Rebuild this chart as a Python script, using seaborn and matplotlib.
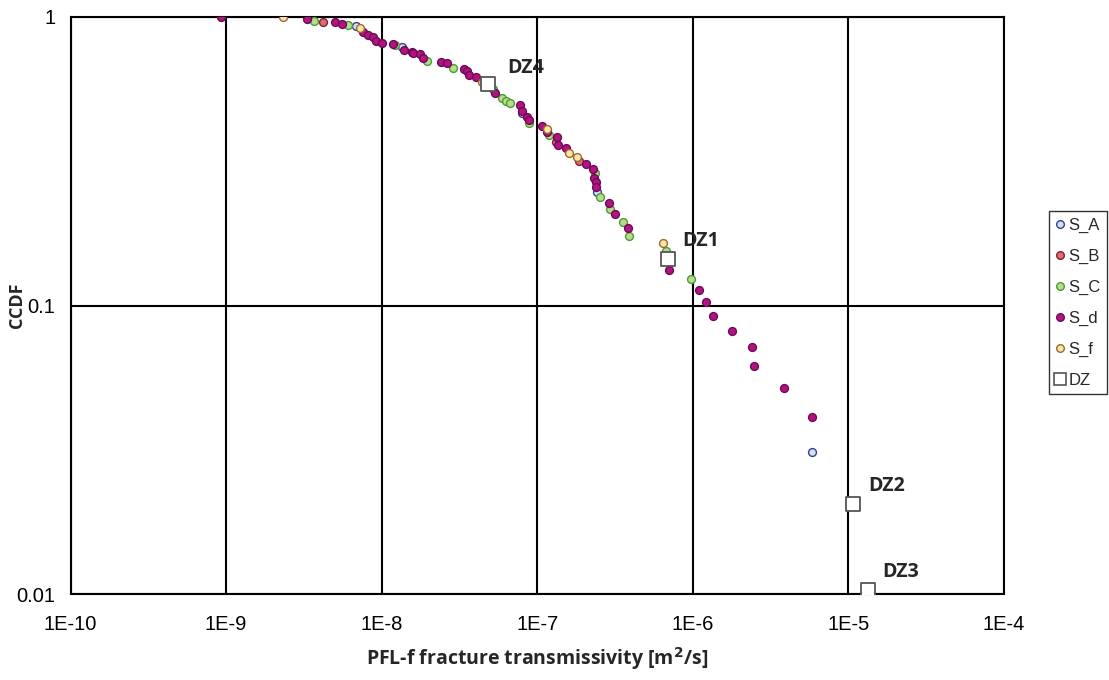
import numpy as np
import pandas as pd
import matplotlib
matplotlib.use("Agg")
import matplotlib.pyplot as plt
import seaborn as sns
from matplotlib.lines import Line2D

# ---- data (transmissivity [m2/s], CCDF) ----
sA_x = [6.84e-9, 1.35e-8, 7.94e-8, 2.41e-7, 5.82e-6]
sA_y = [0.931, 0.789, 0.464, 0.247, 0.0311]

sB_x = [4.20e-9, 1.32e-7, 1.86e-7]
sB_y = [0.958, 0.370, 0.318]

sC_x = [3.69e-9, 6.07e-9, 1.22e-8, 1.95e-8, 2.86e-8, 5.19e-8, 5.90e-8, 6.29e-8,
        6.68e-8, 8.85e-8, 1.19e-7, 2.35e-7, 2.53e-7, 2.94e-7, 3.57e-7, 3.90e-7,
        6.71e-7, 9.72e-7]
sC_y = [0.971, 0.938, 0.800, 0.704, 0.664, 0.563, 0.525, 0.513,
        0.502, 0.428, 0.390, 0.287, 0.238, 0.216, 0.194, 0.1746,
        0.155, 0.124]

sd_x = [9.27e-10, 3.30e-9, 4.99e-9, 5.58e-9, 7.62e-9, 8.20e-9, 8.83e-9, 9.18e-9,
        1.00e-8, 1.19e-8, 1.39e-8, 1.56e-8, 1.60e-8, 1.76e-8, 1.85e-8, 2.39e-8,
        2.62e-8, 3.38e-8, 3.52e-8, 3.62e-8, 4.04e-8, 5.35e-8, 7.74e-8, 7.94e-8,
        8.55e-8, 8.89e-8, 1.08e-7, 1.15e-7, 1.33e-7, 1.36e-7, 1.53e-7, 2.07e-7,
        2.27e-7, 2.31e-7, 2.37e-7, 2.37e-7, 2.89e-7, 3.14e-7, 3.83e-7, 7.02e-7,
        1.09e-6, 1.21e-6, 1.35e-6, 1.79e-6, 2.39e-6, 2.48e-6, 3.85e-6, 5.82e-6]
sd_y = [1.0, 0.984, 0.961, 0.948, 0.889, 0.868, 0.850, 0.824,
        0.815, 0.806, 0.768, 0.758, 0.748, 0.743, 0.723, 0.700,
        0.691, 0.659, 0.652, 0.629, 0.621, 0.544, 0.496, 0.473,
        0.451, 0.440, 0.420, 0.398, 0.383, 0.360, 0.352, 0.309,
        0.297, 0.277, 0.267, 0.258, 0.227, 0.207, 0.185, 0.133,
        0.113, 0.1026, 0.0922, 0.0817, 0.0718, 0.0616, 0.0516, 0.0411]

sf_x = [2.33e-9, 7.26e-9, 4.40e-8, 1.15e-7, 1.60e-7, 1.81e-7, 6.46e-7]
sf_y = [0.998, 0.916, 0.597, 0.409, 0.339, 0.326, 0.165]

dz_x = [4.80e-8, 6.89e-7, 1.07e-5, 1.33e-5]
dz_y = [0.584, 0.1445, 0.0205, 0.0103]
dz_labels = ["DZ4", "DZ1", "DZ2", "DZ3"]

x_ticks = [1e-10, 1e-9, 1e-8, 1e-7, 1e-6, 1e-5, 1e-4]
x_ticklabels = ["1E-10", "1E-9", "1E-8", "1E-7", "1E-6", "1E-5", "1E-4"]
y_ticks = [0.01, 0.1, 1]
y_ticklabels = ["0.01", "0.1", "1"]

series = [
    ("S_A", sA_x, sA_y, "#cfe3f5", "#3b3d8f"),
    ("S_B", sB_x, sB_y, "#d86f78", "#8a1d2c"),
    ("S_C", sC_x, sC_y, "#b8dc8c", "#4d9a37"),
    ("S_d", sd_x, sd_y, "#b3127f", "#6b0b57"),
    ("S_f", sf_x, sf_y, "#fde5a8", "#9a6b2c"),
]

sns.set_style("white")
plt.rcParams["font.family"] = ["Liberation Sans", "DejaVu Sans"]
BOLD = ["Open Sans", "DejaVu Sans"]

fig = plt.figure(figsize=(11.09, 6.80), dpi=100)
ax = fig.add_axes([70.5 / 1109, 1 - 594 / 680, (1004 - 70.5) / 1109, (594 - 17) / 680])

handles = []
for name, xs, ys, fc, ec in series:
    df = pd.DataFrame({"T": xs, "CCDF": ys})
    sns.scatterplot(data=df, x="T", y="CCDF", ax=ax, color=fc, edgecolor=ec,
                    linewidth=1.0, s=32, marker="o", zorder=3, legend=False)
    handles.append(Line2D([], [], linestyle="none", marker="o", markersize=5.5,
                          markerfacecolor=fc, markeredgecolor=ec,
                          markeredgewidth=1.0, label=name))

dfz = pd.DataFrame({"T": dz_x, "CCDF": dz_y})
sns.scatterplot(data=dfz, x="T", y="CCDF", ax=ax, color="white", edgecolor="#555555",
                linewidth=1.3, s=100, marker="s", zorder=4, legend=False)
handles.append(Line2D([], [], linestyle="none", marker="s", markersize=9,
                      markerfacecolor="white", markeredgecolor="#555555",
                      markeredgewidth=1.2, label="DZ"))

for xv, yv, lab in zip(dz_x, dz_y, dz_labels):
    off = (20, 6) if lab == "DZ4" else (15, 8)
    ax.annotate(lab, (xv, yv), xytext=off, textcoords="offset pixels",
                fontsize=14, fontweight="bold", family=BOLD,
                ha="left", va="bottom", zorder=5)

ax.set_xscale("log")
ax.set_yscale("log")
ax.set_xlim(1e-10, 1e-4)
ax.set_ylim(0.01, 1)
ax.set_xticks(x_ticks)
ax.set_xticklabels(x_ticklabels)
ax.set_yticks(y_ticks)
ax.set_yticklabels(y_ticklabels)
ax.minorticks_off()
ax.tick_params(axis="both", which="major", direction="out", length=6, width=1,
               color="black", labelsize=14.5, labelcolor="black")
ax.tick_params(axis="x", pad=9)
ax.tick_params(axis="y", pad=5)
ax.grid(True, which="major", color="black", linewidth=1.5)
for sp in ax.spines.values():
    sp.set_color("black")
    sp.set_linewidth(1.5)
    sp.set_visible(True)

ax.set_xlabel("PFL-f fracture transmissivity [m$^{\\mathbf{2}}$/s]", fontsize=14,
              fontweight="bold", family=BOLD, labelpad=8)
ax.set_ylabel("CCDF", fontsize=13, fontweight="bold", family=BOLD)
ax.yaxis.set_label_coords((26 - 70.5) / 933.5, 0.5)

leg = fig.legend(handles=handles, loc="upper left",
                 bbox_to_anchor=(1049 / 1109, 1 - 211 / 680),
                 frameon=True, fancybox=False, fontsize=12,
                 handlelength=0.5, handletextpad=0.25, labelspacing=0.95,
                 borderpad=0.4, borderaxespad=0)
leg.get_frame().set_edgecolor("black")
leg.get_frame().set_linewidth(1.0)

fig.savefig("out.png", dpi=100)
